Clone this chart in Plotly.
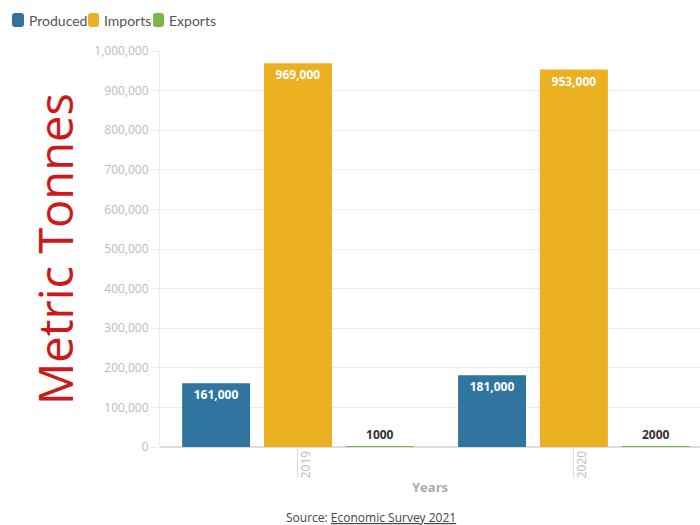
import plotly.graph_objects as go

years = ["2019", "2020"]
produced = [161000, 181000]
imports = [969000, 953000]
exports = [1000, 2000]

produced_labels = ["161,000", "181,000"]
imports_labels = ["969,000", "953,000"]
exports_labels = ["1000", "2000"]

series_names = ["Produced", "Imports", "Exports"]
series_colors = ["#2f75a0", "#ecb120", "#7ab648"]

FONT = "Open Sans"
LEG_FONT = "Lato"
ML, MT = 160, 51
PLOT_H = 396
PLOT_W = 540


def px_x(px):
    return (px - ML) / PLOT_W


def px_y(py):
    return (MT + PLOT_H - py) / PLOT_H


fig = go.Figure()
fig.add_trace(go.Bar(
    name=series_names[0], x=years, y=produced, text=produced_labels,
    texttemplate="%{text}", textposition="inside", insidetextanchor="end",
    textangle=0, marker=dict(color=series_colors[0], line=dict(width=0)),
    textfont=dict(color="white", size=12, family=FONT, weight="bold"),
))
fig.add_trace(go.Bar(
    name=series_names[1], x=years, y=imports, text=imports_labels,
    texttemplate="%{text}", textposition="inside", insidetextanchor="end",
    textangle=0, marker=dict(color=series_colors[1], line=dict(width=0)),
    textfont=dict(color="white", size=12, family=FONT, weight="bold"),
))
fig.add_trace(go.Bar(
    name=series_names[2], x=years, y=exports, text=exports_labels,
    texttemplate="%{text}", textposition="outside", cliponaxis=False,
    textangle=0, marker=dict(color=series_colors[2], line=dict(width=0)),
    textfont=dict(color="#333333", size=12, family=FONT, weight="bold"),
))

# custom compact legend (rounded swatches + labels)
legend_swatch_px = [(12, 24), (88, 99), (153, 164)]
legend_text_px = [27, 102, 167]
shapes = []
annotations = []
for name, color, (x0p, x1p), tx in zip(series_names, series_colors, legend_swatch_px, legend_text_px):
    y0p, y1p = 13, 27
    r = 3
    rx, ry = r / PLOT_W, r / PLOT_H
    x0, x1 = px_x(x0p), px_x(x1p)
    yt, yb = px_y(y0p), px_y(y1p)
    path = (f"M {x0+rx},{yt} L {x1-rx},{yt} Q {x1},{yt} {x1},{yt-ry} "
            f"L {x1},{yb+ry} Q {x1},{yb} {x1-rx},{yb} L {x0+rx},{yb} "
            f"Q {x0},{yb} {x0},{yb+ry} L {x0},{yt-ry} Q {x0},{yt} {x0+rx},{yt} Z")
    shapes.append(dict(type="path", path=path, xref="paper", yref="paper",
                       fillcolor=color, line=dict(width=0)))
    annotations.append(dict(text=name, x=px_x(tx), xref="paper", xanchor="left",
                            y=px_y(20), yref="paper", yanchor="middle", showarrow=False,
                            font=dict(size=14, color="#555555", family=LEG_FONT)))

annotations += [
    dict(text="Metric Tonnes", textangle=-90, x=px_x(55), xref="paper",
         y=0.5, yref="paper", showarrow=False, xanchor="center", yanchor="middle",
         font=dict(size=47, color="#cc1a1a", family=FONT)),
    dict(text="Source: <u>Economic Survey 2021</u>", x=px_x(371), xref="paper",
         xanchor="center", y=px_y(517), yref="paper", yanchor="middle",
         showarrow=False, font=dict(size=12, color="#444444", family=FONT)),
]

fig.update_layout(
    width=700, height=525,
    margin=dict(l=ML, r=0, t=MT, b=78),
    plot_bgcolor="white", paper_bgcolor="white",
    font=dict(family=FONT, color="#999999"),
    barmode="group", bargap=0.11, bargroupgap=0.17,
    showlegend=False,
    xaxis=dict(
        type="category", range=[-0.5, 1.457],
        showgrid=False, showline=False, zeroline=False,
        ticks="outside", ticklen=30, tickcolor="#dddddd", tickwidth=1,
        tickangle=-90, tickfont=dict(size=12, color="#bbbbbb"),
        ticklabelstandoff=-32, ticklabelshift=8,
        title=dict(text="<b>Years</b>", font=dict(size=13, color="#aaaaaa"), standoff=5),
    ),
    yaxis=dict(
        range=[0, 1000000], tickvals=[i * 100000 for i in range(11)],
        tickformat=",d", showgrid=True, gridcolor="#ebebeb",
        zeroline=True, zerolinecolor="#dddddd",
        showline=True, linecolor="#ebebeb",
        ticks="outside", ticklen=8, tickcolor="#ebebeb",
        tickfont=dict(size=12, color="#bbbbbb"),
    ),
    shapes=shapes,
    annotations=annotations,
)

fig.write_html("out.html")
